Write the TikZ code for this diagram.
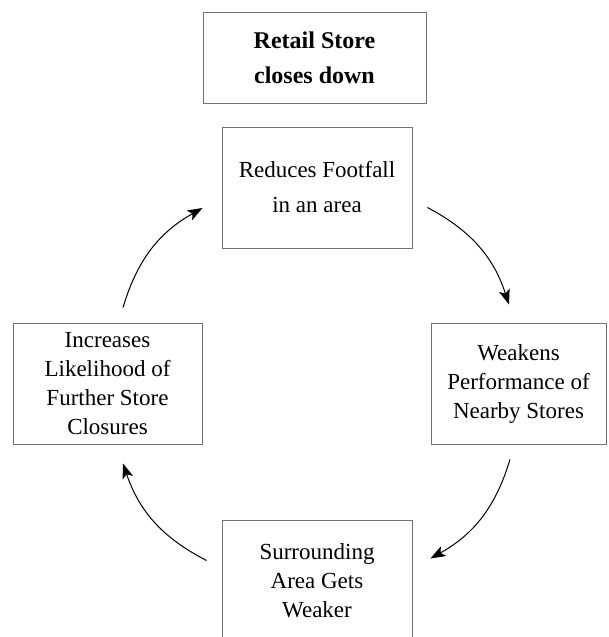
\documentclass[tikz,border=0pt]{standalone}
\usepackage{fontspec}
\setmainfont{Liberation Serif}
\usepackage{tikz}
\usetikzlibrary{arrows.meta, positioning, calc}

\begin{document}
\begin{tikzpicture}[
    x=1pt, y=-1pt,
    stage/.style={rectangle, draw=black!55, line width=0.9pt, minimum width=190pt, minimum height=121pt, align=center, inner sep=2pt, font=\fontsize{23}{29}\selectfont},
    arrow/.style={-{Stealth[length=15pt,width=11pt,inset=3.5pt]}, line width=1pt, bend left=22}
]
    \useasboundingbox (0,0) rectangle (609,637);

    % Trigger
    \node [stage, minimum width=223pt, minimum height=91pt, font=\fontsize{24}{35}\selectfont\bfseries] (closes) at (314.5,57.5) {Retail Store\\closes down};

    % Cycle
    \node [stage, font=\fontsize{23}{35}\selectfont] (reduces) at (317,187.5) {Reduces Footfall\\in an area};
    \node [stage, minimum width=175pt] (weakens) at (518.5,383.5) {Weakens\\Performance of\\Nearby Stores};
    \node [stage] (surrounding) at (317,580.5) {Surrounding\\Area Gets\\Weaker};
    \node [stage, minimum width=189pt] (increases) at (107.5,383.5) {Increases\\Likelihood of\\Further Store\\Closures};

    % Connections
    \draw [arrow] ([shift={(15,20)}]reduces.east) to ([shift={(-9.5,-18)}]weakens.north);
    \draw [arrow] ([shift={(-8.5,15)}]weakens.south) to ([shift={(18,-22)}]surrounding.east);
    \draw [arrow] ([shift={(-15,-20)}]surrounding.west) to ([shift={(15.5,19)}]increases.south);
    \draw [arrow] ([shift={(15.5,-15)}]increases.north) to ([shift={(-19,20.5)}]reduces.west);
\end{tikzpicture}
\end{document}
